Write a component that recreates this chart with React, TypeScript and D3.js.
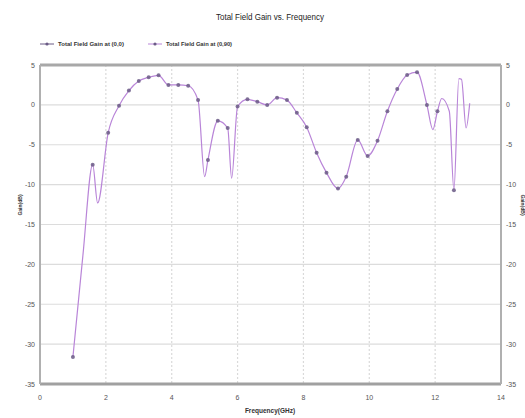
import * as d3 from 'd3';
import { useEffect, useRef } from 'react';

const WIDTH = 525, HEIGHT = 418;
const margin = { top: 65, right: 24, bottom: 34, left: 40 };

// full sweep (GHz, dB)
const sweepFreq = [1.0, 1.3, 1.6, 1.75, 2.07, 2.4, 2.7, 3.0, 3.3, 3.6, 3.9, 4.2, 4.5, 4.8, 5.0, 5.1, 5.4, 5.7, 5.82, 6.0, 6.3, 6.6, 6.9, 7.2, 7.5, 7.8, 8.1, 8.4, 8.7, 9.05, 9.3, 9.65, 9.95, 10.25, 10.55, 10.85, 11.15, 11.45, 11.75, 11.93, 12.07, 12.2, 12.43, 12.57, 12.72, 12.8, 12.94, 13.05];
const sweepGain = [-31.6, -19, -7.5, -12.3, -3.5, -0.1, 1.8, 3.0, 3.45, 3.7, 2.5, 2.5, 2.4, 0.6, -9.0, -6.9, -2.0, -2.9, -9.2, -0.2, 0.7, 0.4, 0.0, 0.9, 0.6, -1.0, -2.8, -6.0, -8.5, -10.5, -9.0, -4.4, -6.4, -4.5, -0.8, 2.0, 3.75, 4.1, 0.0, -3.1, -0.8, 0.8, -0.8, -10.7, 3.3, 3.2, -2.9, 0.2];

// sampled points shown with markers
const markFreq = [1.0, 1.6, 2.07, 2.4, 2.7, 3.0, 3.3, 3.6, 3.9, 4.2, 4.5, 4.8, 5.1, 5.4, 5.7, 6.0, 6.3, 6.6, 6.9, 7.2, 7.5, 7.8, 8.1, 8.4, 8.7, 9.05, 9.3, 9.65, 9.95, 10.25, 10.55, 10.85, 11.15, 11.45, 11.75, 12.07, 12.57];
const markGain = [-31.6, -7.5, -3.5, -0.1, 1.8, 3.0, 3.45, 3.7, 2.5, 2.5, 2.4, 0.6, -6.9, -2.0, -2.9, -0.2, 0.7, 0.4, 0.0, 0.9, 0.6, -1.0, -2.8, -6.0, -8.5, -10.5, -9.0, -4.4, -6.4, -4.5, -0.8, 2.0, 3.75, 4.1, 0.0, -0.8, -10.7];

const xTicks = [0, 2, 4, 6, 8, 10, 12, 14];
const yTicks = [5, 0, -5, -10, -15, -20, -25, -30, -35];
const legendNames = ['Total Field Gain at (0,0)', 'Total Field Gain at (0,90)'];

const LINE_COLOR = '#b985d8';
const MARK_COLOR = '#6b5b86';
const FONT = 'Arial, "Liberation Sans", sans-serif';

const App = () => {
    const ref = useRef<SVGSVGElement>(null);

    useEffect(() => {
        const svg = d3.select(ref.current);
        svg.selectAll('*').remove();

        const x = d3.scaleLinear().domain([0, 14]).range([margin.left, WIDTH - margin.right]);
        const y = d3.scaleLinear().domain([-35, 5]).range([HEIGHT - margin.bottom, margin.top]);

        const g = svg.append('g');

        // grid
        g.selectAll('.hgrid').data(yTicks).enter().append('line')
            .attr('x1', x(0)).attr('x2', x(14))
            .attr('y1', d => y(d)).attr('y2', d => y(d))
            .attr('stroke', '#dcdcdc').attr('stroke-width', 1.2);
        g.selectAll('.vgrid').data(xTicks.slice(1, -1)).enter().append('line')
            .attr('x1', d => x(d)).attr('x2', d => x(d))
            .attr('y1', y(5)).attr('y2', y(-35))
            .attr('stroke', '#dadada').attr('stroke-width', 1.2)
            .attr('stroke-dasharray', '2,2');

        // frame
        g.append('line').attr('x1', x(0)).attr('x2', x(14)).attr('y1', y(5)).attr('y2', y(5))
            .attr('stroke', '#a8a8a8').attr('stroke-width', 3);
        g.append('line').attr('x1', x(0)).attr('x2', x(14)).attr('y1', y(-35)).attr('y2', y(-35))
            .attr('stroke', '#a0a0a0').attr('stroke-width', 3);
        g.append('line').attr('x1', x(0)).attr('x2', x(0)).attr('y1', y(5)).attr('y2', y(-35))
            .attr('stroke', '#b0b0b0').attr('stroke-width', 2);
        g.append('line').attr('x1', x(14)).attr('x2', x(14)).attr('y1', y(5)).attr('y2', y(-35))
            .attr('stroke', '#b0b0b0').attr('stroke-width', 2);

        // tick labels
        g.selectAll('.ylab').data(yTicks).enter().append('text')
            .attr('x', x(0) - 5).attr('y', d => y(d) + 2.5)
            .attr('text-anchor', 'end').attr('font-size', 7).attr('font-family', FONT).attr('fill', '#555')
            .text(d => d);
        g.selectAll('.ylabr').data(yTicks).enter().append('text')
            .attr('x', x(14) + 5).attr('y', d => y(d) + 2.5)
            .attr('text-anchor', 'start').attr('font-size', 7).attr('font-family', FONT).attr('fill', '#555')
            .text(d => d);
        g.selectAll('.xlab').data(xTicks).enter().append('text')
            .attr('x', d => x(d)).attr('y', HEIGHT - margin.bottom + 16)
            .attr('text-anchor', 'middle').attr('font-size', 7).attr('font-family', FONT).attr('fill', '#555')
            .text(d => d);

        // axis titles
        g.append('text').attr('x', 270).attr('y', 413).attr('text-anchor', 'middle')
            .attr('font-size', 6.5).attr('font-weight', 'bold').attr('font-family', FONT).attr('fill', '#333')
            .text('Frequency(GHz)');
        g.append('text').attr('transform', 'translate(22,205) rotate(-90)').attr('text-anchor', 'middle')
            .attr('font-size', 5).attr('font-weight', 'bold').attr('font-family', FONT).attr('fill', '#333')
            .text('Gain(dB)');
        g.append('text').attr('transform', 'translate(521,205) rotate(90)').attr('text-anchor', 'middle')
            .attr('font-size', 5).attr('font-weight', 'bold').attr('font-family', FONT).attr('fill', '#333')
            .text('Gain(dB)');

        // title
        g.append('text').attr('x', 270).attr('y', 20).attr('text-anchor', 'middle')
            .attr('font-size', 8.5).attr('font-family', FONT).attr('fill', '#222')
            .attr('textLength', 108).attr('lengthAdjust', 'spacingAndGlyphs')
            .text('Total Field Gain vs. Frequency');

        // legend
        const legendX = [40, 148];
        const legendColors = [MARK_COLOR, LINE_COLOR];
        legendNames.forEach((name, i) => {
            const lx = legendX[i];
            g.append('line').attr('x1', lx).attr('x2', lx + 14).attr('y1', 44).attr('y2', 44)
                .attr('stroke', legendColors[i]).attr('stroke-width', 1);
            g.append('circle').attr('cx', lx + 7).attr('cy', 44).attr('r', 1.6).attr('fill', MARK_COLOR);
            g.append('text').attr('x', lx + 18).attr('y', 46).attr('font-size', 5.5).attr('font-family', FONT)
                .attr('font-weight', 'bold').attr('fill', '#333')
                .attr('textLength', 66).attr('lengthAdjust', 'spacingAndGlyphs')
                .text(name);
        });

        // curve
        const sweep = sweepFreq.map((f, i) => [f, sweepGain[i]] as [number, number]);
        const line = d3.line<[number, number]>()
            .x(d => x(d[0])).y(d => y(d[1]))
            .curve(d3.curveMonotoneX);
        g.append('path').datum(sweep).attr('d', line)
            .attr('fill', 'none').attr('stroke', LINE_COLOR).attr('stroke-width', 1.2);

        g.selectAll('.mark').data(markFreq).enter().append('circle')
            .attr('cx', d => x(d)).attr('cy', (d, i) => y(markGain[i]))
            .attr('r', 2).attr('fill', MARK_COLOR).attr('opacity', 0.85);
    }, []);

    return (
        <svg ref={ref} width={WIDTH} height={HEIGHT}
            style={{ position: 'absolute', left: 0, top: 0, background: '#fff' }} />
    );
};

export default App;
